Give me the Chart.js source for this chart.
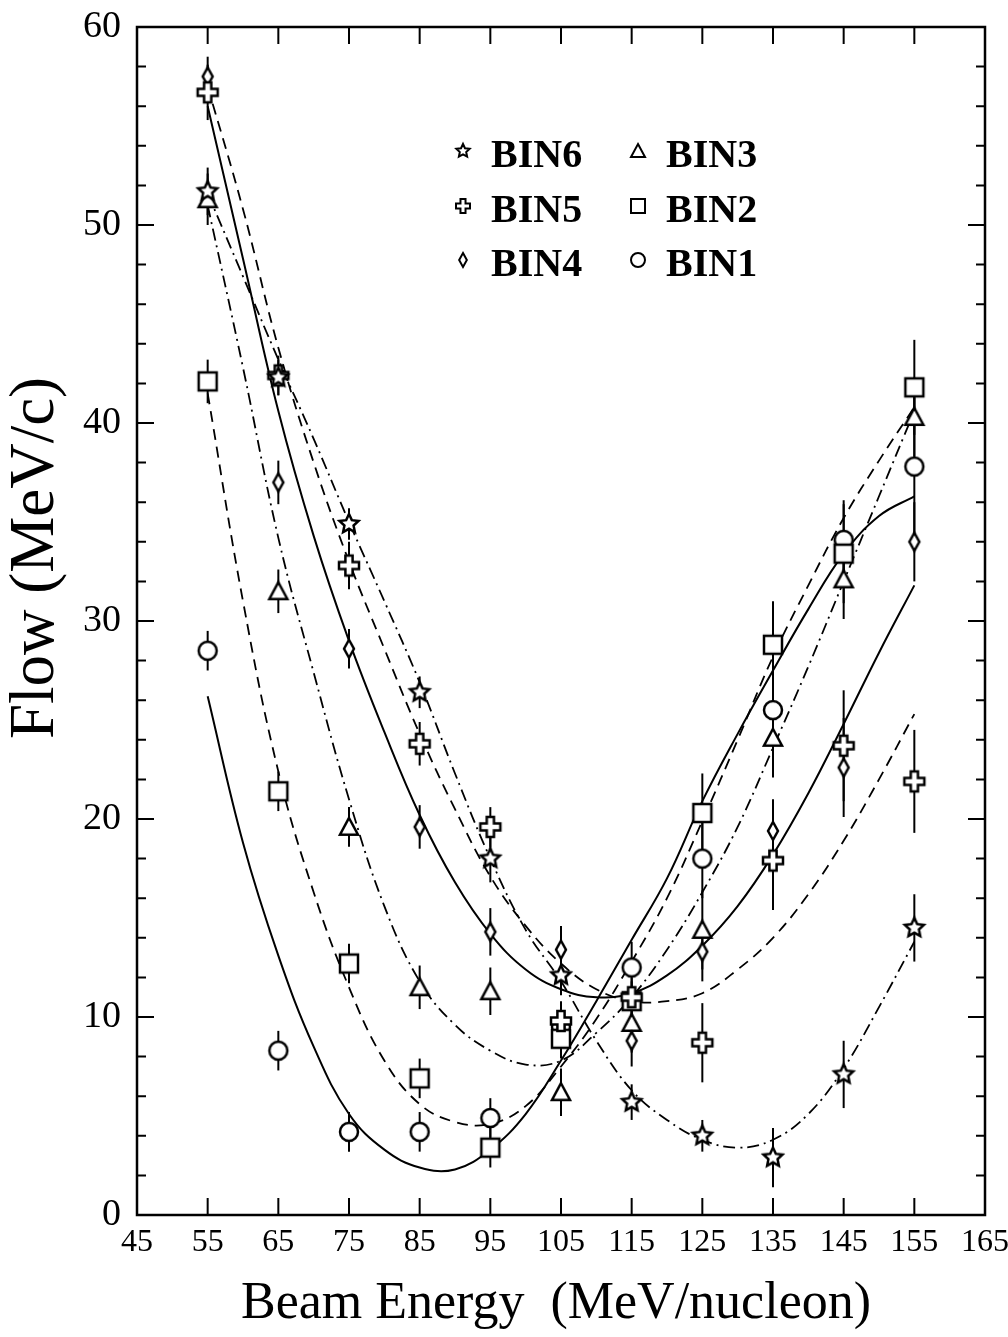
<!DOCTYPE html>
<html>
<head>
<meta charset="utf-8">
<script src="https://cdn.jsdelivr.net/npm/chart.js@4.4.0/dist/chart.umd.min.js"></script>
<style>
	html, body { margin: 0; padding: 0; background: #fff; }
	#wrap { width: 1008px; height: 1337px; }
</style>
</head>
<body>
<div id="wrap"><canvas id="flowChart"></canvas></div>
<script>
// measured points (beam energy in MeV/nucleon, flow in MeV/c)
var energies = [55, 65, 75, 85, 95, 105, 115, 125, 135, 145, 155];

var bin6 = [51.7, 42.3, 34.9, 26.4, 18.0, 12.1, 5.7, 4.0, 2.9, 7.1, 14.5];
var bin6Err = [1.2, 0.9, 0.8, 0.8, 1.2, 1.0, 0.9, 0.8, 1.5, 1.7, 1.7];
var bin5 = [56.7, 42.4, 32.8, 23.8, 19.6, 9.8, 11.0, 8.7, 17.9, 23.7, 21.9];
var bin5Err = [1.4, 1.0, 1.2, 1.1, 1.0, 1.0, 1.0, 2.0, 2.5, 2.8, 2.6];
var bin4 = [57.5, 37.0, 28.6, 19.6, 14.3, 13.4, 8.8, 13.3, 19.4, 22.6, 34.0];
var bin4Err = [1.0, 1.1, 1.0, 1.1, 1.2, 1.2, 1.3, 1.5, 1.6, 2.5, 2.0];
var bin3 = [51.3, 31.5, 19.6, 11.5, 11.3, 6.2, 9.7, 14.4, 24.1, 32.1, 40.3];
var bin3Err = [1.3, 1.1, 1.0, 1.1, 1.2, 1.2, 1.5, 2.0, 2.0, 2.0, 2.0];
var bin2 = [42.1, 21.4, 12.7, 6.9, 3.4, 8.9, 10.8, 20.3, 28.8, 33.4, 41.8];
var bin2Err = [1.1, 1.0, 1.0, 1.0, 1.0, 1.0, 1.0, 2.0, 2.2, 2.5, 2.4];
var bin1 = [28.5, 8.3, 4.2, 4.2, 4.9, 9.5, 12.5, 18.0, 25.5, 34.1, 37.8];
var bin1Err = [1.0, 1.0, 1.0, 1.0, 1.0, 1.0, 1.3, 2.0, 3.0, 2.0, 3.5];

var fitEnergies = [55, 60, 65, 70, 75, 80, 85, 90, 95, 100, 105, 110, 115, 120, 125, 130, 135, 140, 145, 150, 155];
var bin6Fit = [51.6, 47.4, 43.2, 39.2, 35.0, 31.0, 26.9, 22.3, 18.0, 14.4, 11.8, 8.8, 6.3, 4.8, 3.8, 3.4, 3.8, 5.1, 7.4, 10.5, 13.8];
var bin5Fit = [57.0, 50.8, 43.8, 38.0, 33.0, 28.6, 24.3, 20.5, 17.1, 14.6, 12.7, 11.4, 10.8, 10.8, 11.2, 12.4, 14.0, 16.2, 18.9, 22.0, 25.3];
var bin4Fit = [56.0, 48.3, 40.6, 34.3, 29.0, 24.4, 20.2, 16.8, 14.2, 12.4, 11.4, 11.0, 11.2, 12.1, 13.6, 15.6, 18.2, 21.3, 24.8, 28.4, 31.8];
var bin3Fit = [51.0, 42.8, 34.2, 27.4, 21.0, 15.6, 11.8, 9.6, 8.3, 7.6, 7.8, 9.2, 11.0, 13.4, 16.3, 19.6, 23.6, 27.7, 32.0, 36.3, 40.6];
var bin2Fit = [41.5, 31.0, 22.4, 16.3, 11.5, 7.8, 5.6, 4.7, 4.6, 5.5, 7.5, 9.9, 12.8, 16.0, 19.9, 24.0, 28.2, 31.8, 35.2, 38.1, 40.8];
var bin1Fit = [26.2, 18.8, 13.1, 8.5, 5.1, 3.3, 2.4, 2.3, 3.3, 5.1, 7.8, 10.8, 13.9, 17.0, 20.9, 24.3, 27.5, 30.6, 33.4, 35.3, 36.3];

var xMin = 45, xMax = 165, xStep = 10;
var yMin = 0, yMax = 60, yStep = 10, yMinorStep = 2;

var SERIF = "'Liberation Serif', 'Times New Roman', serif";
var DASHED = [11, 7];
var DASH_DOT = [12, 5, 2, 5];

function makeMarker(kind, s) {
	var c = document.createElement('canvas');
	var pad = 3;
	c.width = s + pad * 2;
	c.height = s + pad * 2;
	var g = c.getContext('2d');
	g.translate(c.width / 2, c.height / 2);
	g.lineWidth = s > 15 ? 2.5 : 2;
	g.lineJoin = 'miter';
	g.strokeStyle = '#000';
	g.fillStyle = '#fff';
	var r = s / 2;
	g.beginPath();
	if (kind == 'circle') {
		g.arc(0, 0, r, 0, Math.PI * 2);
	} else if (kind == 'square') {
		g.rect(-r, -r, s, s);
	} else if (kind == 'triangle') {
		g.moveTo(0, -r);
		g.lineTo(r, r * 0.85);
		g.lineTo(-r, r * 0.85);
		g.closePath();
	} else if (kind == 'diamond') {
		g.moveTo(0, -r);
		g.lineTo(r * 0.55, 0);
		g.lineTo(0, r);
		g.lineTo(-r * 0.55, 0);
		g.closePath();
	} else if (kind == 'star') {
		for (var i = 0; i < 10; i++) {
			var a = -Math.PI / 2 + i * Math.PI / 5;
			var rr = i % 2 ? r * 0.48 : r;
			if (i == 0) g.moveTo(rr * Math.cos(a), rr * Math.sin(a));
			else g.lineTo(rr * Math.cos(a), rr * Math.sin(a));
		}
		g.closePath();
	} else if (kind == 'cross') {
		var w = r * 0.36;
		g.moveTo(-w, -r); g.lineTo(w, -r); g.lineTo(w, -w); g.lineTo(r, -w);
		g.lineTo(r, w); g.lineTo(w, w); g.lineTo(w, r); g.lineTo(-w, r);
		g.lineTo(-w, w); g.lineTo(-r, w); g.lineTo(-r, -w); g.lineTo(-w, -w);
		g.closePath();
	}
	g.fill();
	g.stroke();
	return c;
}

function toPoints(xs, ys) {
	return xs.map(function(x, i) { return { x: x, y: ys[i] }; });
}

function pointSet(label, values, errors, kind) {
	return {
		label: label,
		data: toPoints(energies, values),
		errors: errors,
		showLine: false,
		pointStyle: makeMarker(kind, kind == 'star' || kind == 'cross' ? 20 : 18),
		legendMarker: makeMarker(kind, 14),
		pointRadius: 9,
		order: 1
	};
}

function fitSet(values, dash, width) {
	return {
		label: '',
		data: toPoints(fitEnergies, values),
		showLine: true,
		borderColor: '#000',
		borderWidth: width,
		borderDash: dash,
		tension: 0.4,
		pointRadius: 0,
		fill: false,
		order: 2
	};
}

var datasets = [
	pointSet('BIN6', bin6, bin6Err, 'star'),
	pointSet('BIN5', bin5, bin5Err, 'cross'),
	pointSet('BIN4', bin4, bin4Err, 'diamond'),
	pointSet('BIN3', bin3, bin3Err, 'triangle'),
	pointSet('BIN2', bin2, bin2Err, 'square'),
	pointSet('BIN1', bin1, bin1Err, 'circle'),
	fitSet(bin6Fit, DASH_DOT, 1.8),
	fitSet(bin5Fit, DASHED, 1.8),
	fitSet(bin4Fit, [], 2.0),
	fitSet(bin3Fit, DASH_DOT, 1.8),
	fitSet(bin2Fit, DASHED, 1.8),
	fitSet(bin1Fit, [], 2.0)
];

// vertical error bars behind the markers
var errorBarPlugin = {
	id: 'errorBars',
	beforeDatasetsDraw: function(chart) {
		var ctx = chart.ctx, xs = chart.scales.x, ys = chart.scales.y, area = chart.chartArea;
		ctx.save();
		ctx.beginPath();
		ctx.rect(area.left, area.top, area.right - area.left, area.bottom - area.top);
		ctx.clip();
		ctx.strokeStyle = '#000';
		ctx.lineWidth = 2;
		chart.data.datasets.forEach(function(ds) {
			if (!ds.errors) return;
			ds.data.forEach(function(p, i) {
				var px = xs.getPixelForValue(p.x);
				ctx.beginPath();
				ctx.moveTo(px, ys.getPixelForValue(p.y - ds.errors[i]));
				ctx.lineTo(px, ys.getPixelForValue(p.y + ds.errors[i]));
				ctx.stroke();
			});
		});
		ctx.restore();
	}
};

// frame with inward ticks on all four sides, axis titles and the boxed-in legend
var framePlugin = {
	id: 'frame',
	afterDraw: function(chart) {
		var ctx = chart.ctx, xs = chart.scales.x, ys = chart.scales.y, a = chart.chartArea;
		ctx.save();
		ctx.strokeStyle = '#000';
		ctx.lineWidth = 2.5;
		ctx.strokeRect(a.left, a.top, a.right - a.left, a.bottom - a.top);

		ctx.lineWidth = 2;
		ctx.beginPath();
		for (var v = xMin + xStep; v < xMax; v += xStep) {
			var px = xs.getPixelForValue(v);
			ctx.moveTo(px, a.bottom); ctx.lineTo(px, a.bottom - 17);
			ctx.moveTo(px, a.top); ctx.lineTo(px, a.top + 17);
		}
		for (var w = yMin + yMinorStep; w < yMax; w += yMinorStep) {
			var py = ys.getPixelForValue(w);
			var len = (w % yStep == 0) ? 17 : 9;
			ctx.moveTo(a.left, py); ctx.lineTo(a.left + len, py);
			ctx.moveTo(a.right, py); ctx.lineTo(a.right - len, py);
		}
		ctx.stroke();

		ctx.fillStyle = '#000';
		ctx.textAlign = 'center';
		ctx.textBaseline = 'middle';
		ctx.font = '52px ' + SERIF;
		ctx.fillText('Beam Energy  (MeV/nucleon)', 556, 1304);

		ctx.save();
		ctx.translate(36, 558);
		ctx.rotate(-Math.PI / 2);
		ctx.font = '63px ' + SERIF;
		ctx.fillText('Flow (MeV/c)', 0, 0);
		ctx.restore();

		// legend: two columns of three
		ctx.font = 'bold 40px ' + SERIF;
		ctx.textAlign = 'left';
		var cols = [a.left + 326, a.left + 501];
		var rows = [a.top + 128, a.top + 183, a.top + 237];
		chart.data.datasets.forEach(function(ds, i) {
			if (!ds.legendMarker) return;
			var cx = cols[Math.floor(i / 3)], cy = rows[i % 3];
			var m = ds.legendMarker;
			ctx.drawImage(m, cx - m.width / 2, cy - 4 - m.height / 2);
			ctx.fillText(ds.label, cx + 28, cy + 2);
		});
		ctx.restore();
	}
};

var ctx = document.getElementById('flowChart');
new Chart(ctx, {
	type: 'scatter',
	data: { datasets: datasets },
	options: {
		responsive: true,
		maintainAspectRatio: false,
		animation: false,
		layout: { padding: { top: 27, right: 23, left: 0, bottom: 0 } },
		plugins: {
			legend: { display: false },
			tooltip: { enabled: false }
		},
		scales: {
			x: {
				type: 'linear',
				min: xMin,
				max: xMax,
				grid: { display: false, drawTicks: false },
				border: { display: false },
				ticks: {
					stepSize: xStep,
					color: '#000',
					padding: 8,
					maxRotation: 0,
					autoSkip: false,
					font: { family: SERIF, size: 32 }
				},
				afterFit: function(scale) {
					scale.height = 122;
					scale.paddingLeft = 0;
					scale.paddingRight = 0;
				}
			},
			y: {
				min: yMin,
				max: yMax,
				grid: { display: false, drawTicks: false },
				border: { display: false },
				ticks: {
					stepSize: yStep,
					color: '#000',
					padding: 16,
					font: { family: SERIF, size: 38 }
				},
				afterFit: function(scale) {
					scale.width = 137;
					scale.paddingTop = 0;
					scale.paddingBottom = 0;
				}
			}
		}
	},
	plugins: [errorBarPlugin, framePlugin]
});
</script>
</body>
</html>
